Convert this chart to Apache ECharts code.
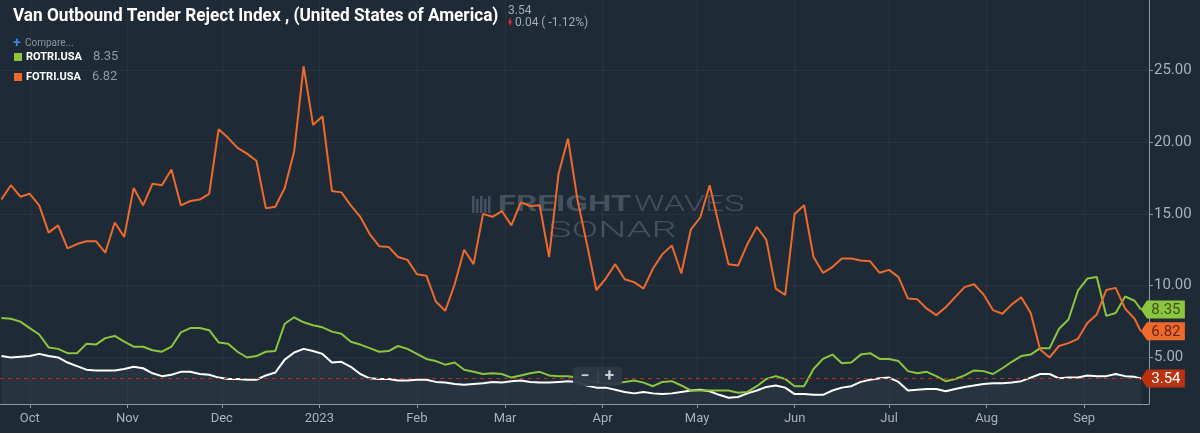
<!DOCTYPE html>
<html>
<head>
<meta charset="utf-8">
<title>Van Outbound Tender Reject Index</title>
<script src="https://cdn.jsdelivr.net/npm/echarts@6/dist/echarts.min.js"></script>
<style>
  html, body { margin: 0; padding: 0; background: #1e2a36; }
  #main { width: 1200px; height: 433px; }
</style>
</head>
<body>
<div id="main"></div>
<script>
// every 3 days, last point is the latest reading
const dates = [
  '2022-09-22','2022-09-25','2022-09-28','2022-10-01','2022-10-04','2022-10-07','2022-10-10','2022-10-13','2022-10-16','2022-10-19',
  '2022-10-22','2022-10-25','2022-10-28','2022-10-31','2022-11-03','2022-11-06','2022-11-09','2022-11-12','2022-11-15','2022-11-18',
  '2022-11-21','2022-11-24','2022-11-27','2022-11-30','2022-12-03','2022-12-06','2022-12-09','2022-12-12','2022-12-15','2022-12-18',
  '2022-12-21','2022-12-24','2022-12-27','2022-12-30','2023-01-02','2023-01-05','2023-01-08','2023-01-11','2023-01-14','2023-01-17',
  '2023-01-20','2023-01-23','2023-01-26','2023-01-29','2023-02-01','2023-02-04','2023-02-07','2023-02-10','2023-02-13','2023-02-16',
  '2023-02-19','2023-02-22','2023-02-25','2023-02-28','2023-03-03','2023-03-06','2023-03-09','2023-03-12','2023-03-15','2023-03-18',
  '2023-03-21','2023-03-24','2023-03-27','2023-03-30','2023-04-02','2023-04-05','2023-04-08','2023-04-11','2023-04-14','2023-04-17',
  '2023-04-20','2023-04-23','2023-04-26','2023-04-29','2023-05-02','2023-05-05','2023-05-08','2023-05-11','2023-05-14','2023-05-17',
  '2023-05-20','2023-05-23','2023-05-26','2023-05-29','2023-06-01','2023-06-04','2023-06-07','2023-06-10','2023-06-13','2023-06-16',
  '2023-06-19','2023-06-22','2023-06-25','2023-06-28','2023-07-01','2023-07-04','2023-07-07','2023-07-10','2023-07-13','2023-07-16',
  '2023-07-19','2023-07-22','2023-07-25','2023-07-28','2023-07-31','2023-08-03','2023-08-06','2023-08-09','2023-08-12','2023-08-15',
  '2023-08-18','2023-08-21','2023-08-24','2023-08-27','2023-08-30','2023-09-02','2023-09-05','2023-09-08','2023-09-11','2023-09-14',
  '2023-09-17','2023-09-19'
]

// VOTRI.USA (main series)
const votri = [
  5.1, 5.0, 5.05, 5.1, 5.25, 5.1, 5.0, 4.65, 4.4, 4.15,
  4.1, 4.1, 4.1, 4.2, 4.35, 4.25, 3.9, 3.7, 3.8, 4.0,
  4.0, 3.85, 3.8, 3.6, 3.5, 3.5, 3.45, 3.45, 3.75, 3.95,
  4.85, 5.35, 5.6, 5.45, 5.25, 4.65, 4.7, 4.35, 3.85, 3.55,
  3.5, 3.5, 3.4, 3.4, 3.45, 3.45, 3.3, 3.25, 3.15, 3.1,
  3.15, 3.2, 3.3, 3.25, 3.35, 3.4, 3.3, 3.25, 3.25, 3.3,
  3.35, 3.3, 3.05, 2.9, 2.9, 2.75, 2.6, 2.5, 2.6, 2.5,
  2.45, 2.5, 2.6, 2.7, 2.75, 2.65, 2.4, 2.2, 2.25, 2.5,
  2.7, 2.95, 3.05, 2.9, 2.45, 2.45, 2.4, 2.4, 2.7, 2.9,
  3.0, 3.3, 3.45, 3.55, 3.6, 3.3, 2.7, 2.75, 2.8, 2.8,
  2.65, 2.8, 2.95, 3.05, 3.15, 3.2, 3.2, 3.25, 3.35, 3.6,
  3.85, 3.85, 3.55, 3.6, 3.6, 3.75, 3.7, 3.7, 3.85, 3.7,
  3.65, 3.54
]

const rotri = [
  7.75, 7.7, 7.5, 7.05, 6.6, 5.7, 5.6, 5.3, 5.3, 5.95,
  5.9, 6.35, 6.5, 6.1, 5.75, 5.75, 5.5, 5.4, 5.75, 6.75,
  7.05, 7.05, 6.9, 6.05, 5.95, 5.4, 5.0, 5.1, 5.4, 5.45,
  7.35, 7.8, 7.45, 7.25, 7.1, 6.8, 6.65, 6.1, 5.9, 5.65,
  5.4, 5.45, 5.8, 5.6, 5.25, 4.9, 4.75, 4.5, 4.65, 4.15,
  4.0, 3.85, 3.9, 3.85, 3.6, 3.75, 3.9, 4.0, 3.75, 3.7,
  3.7, 3.6, 3.4, 3.3, 3.2, 3.15, 3.3, 3.4, 3.25, 3.0,
  3.3, 3.35, 3.05, 2.7, 2.7, 2.7, 2.7, 2.7, 2.55, 2.6,
  3.0, 3.5, 3.7, 3.5, 3.0, 3.0, 4.2, 4.9, 5.2, 4.6,
  4.65, 5.2, 5.3, 4.9, 4.9, 4.75, 4.05, 3.9, 4.0, 3.7,
  3.35, 3.5, 3.75, 4.1, 4.05, 3.85, 4.25, 4.7, 5.1, 5.2,
  5.65, 5.65, 7.0, 7.65, 9.65, 10.5, 10.6, 7.9, 8.1, 9.25,
  8.95, 8.35
]

const fotri = [
  16.0, 17.0, 16.2, 16.4, 15.6, 13.7, 14.2, 12.6, 12.9, 13.1,
  13.1, 12.3, 14.4, 13.4, 16.8, 15.6, 17.1, 17.0, 18.1, 15.6,
  15.9, 16.0, 16.4, 20.9, 20.3, 19.6, 19.2, 18.7, 15.4, 15.5,
  16.8, 19.35, 25.3, 21.2, 21.8, 16.6, 16.5, 15.6, 14.8, 13.6,
  12.75, 12.7, 12.0, 11.8, 10.8, 10.7, 8.9, 8.25, 10.1, 12.5,
  11.5, 15.0, 14.8, 15.2, 14.2, 15.8, 15.55, 15.6, 12.0, 17.8,
  20.25, 16.0, 12.9, 9.7, 10.5, 11.5, 10.45, 10.25, 9.8, 11.2,
  12.2, 12.8, 10.85, 13.9, 14.75, 17.0, 14.2, 11.5, 11.4, 12.9,
  14.1, 13.2, 9.8, 9.35, 15.0, 15.6, 12.0, 10.9, 11.3, 11.9,
  11.9, 11.75, 11.7, 10.9, 11.1, 10.6, 9.1, 9.05, 8.4, 7.95,
  8.5, 9.2, 9.9, 10.1, 9.4, 8.3, 8.05, 8.7, 9.2, 8.1,
  5.55, 5.0, 5.8, 6.0, 6.3, 7.4, 8.0, 9.7, 9.85, 8.4,
  7.7, 6.82
]

const monthStarts = ['2022-10-01','2022-11-01','2022-12-01','2023-01-01','2023-02-01','2023-03-01',
  '2023-04-01','2023-05-01','2023-06-01','2023-07-01','2023-08-01','2023-09-01']
const monthLabels = ['Oct','Nov','Dec','2023','Feb','Mar','Apr','May','Jun','Jul','Aug','Sep']
const yTicks = [5, 10, 15, 20, 25]

const BG = '#1e2a36'
const ORANGE = '#ee6a2c'
const GREEN = '#8cc63f'
const RED_TAG = '#bb3211'
const LABEL = '#a9b2bb'
const GRIDLINE = 'rgba(255,255,255,0.045)'

const parse = (d) => +echarts.time.parse(d)
const monthTs = monthStarts.map(parse)
const pairs = (vals) => dates.map((d, i) => [parse(d), vals[i]])
const last = dates.length - 1
const lastTs = parse(dates[last])

// pointed price tag at the end of each line
function tag(value, fill, textColor) {
  return {
    symbol: 'path://M0,9 L6,0 L44,0 L44,18 L6,18 Z',
    symbolSize: [44, 18],
    symbolKeepAspect: false,
    symbolOffset: [22, 0],
    silent: true,
    itemStyle: { color: fill },
    label: {
      show: true,
      position: 'inside',
      offset: [3, 1],
      color: textColor,
      fontSize: 15,
      fontFamily: 'Roboto',
      formatter: () => value.toFixed(2),
    },
    data: [{ coord: [lastTs, value] }],
  }
}

var myChart = echarts.init(document.getElementById('main'))
var option = {
  backgroundColor: BG,
  animation: false,
  grid: { left: 0, right: 51, top: 0, bottom: 29 },
  xAxis: {
    // dates as timestamps on a value axis, month starts as ticks
    type: 'value',
    min: parse('2022-09-21') + 13 * 3600e3,
    max: parse('2023-09-21') + 14 * 3600e3,
    axisLine: { show: true, onZero: false, lineStyle: { color: '#8d97a1', width: 1 } },
    axisTick: { show: true, customValues: monthTs, length: 4, lineStyle: { color: '#8d97a1' } },
    axisLabel: {
      customValues: monthTs,
      color: LABEL,
      fontSize: 13,
      fontFamily: 'Roboto',
      margin: 8,
      formatter: (v) => monthLabels[monthTs.indexOf(v)] || '',
    },
    splitLine: { show: false },
  },
  yAxis: {
    type: 'value',
    position: 'right',
    min: 1.76,
    max: 29.9,
    axisLine: { show: true, lineStyle: { color: '#8d97a1', width: 1 } },
    axisTick: { show: true, customValues: yTicks, length: 4, lineStyle: { color: '#8d97a1' } },
    axisLabel: {
      customValues: yTicks,
      color: LABEL,
      fontSize: 15,
      fontFamily: 'Roboto',
      margin: 5,
      formatter: (v) => v.toFixed(2),
    },
    splitLine: { show: false },
  },
  series: [
    {
      name: 'VOTRI.USA',
      type: 'line',
      data: pairs(votri),
      showSymbol: false,
      lineStyle: { color: '#ffffff', width: 2 },
      itemStyle: { color: '#ffffff' },
      areaStyle: { color: 'rgba(255,255,255,0.06)' },
      z: 3,
      markLine: {
        silent: true,
        symbol: 'none',
        label: { show: false },
        data: [
          { yAxis: votri[last], lineStyle: { color: '#b2341c', type: [4, 4], width: 1 } },
          // background grid drawn as lines
          ...yTicks.map((v) => ({ yAxis: v, lineStyle: { color: GRIDLINE, type: 'solid', width: 1 } })),
          ...monthTs.map((t) => ({ xAxis: t, lineStyle: { color: GRIDLINE, type: 'solid', width: 1 } })),
        ],
      },
      markPoint: tag(votri[last], RED_TAG, '#ffffff'),
    },
    {
      name: 'ROTRI.USA',
      type: 'line',
      data: pairs(rotri),
      showSymbol: false,
      lineStyle: { color: GREEN, width: 2 },
      itemStyle: { color: GREEN },
      z: 4,
      markPoint: tag(rotri[last], GREEN, '#3d5219'),
    },
    {
      name: 'FOTRI.USA',
      type: 'line',
      data: pairs(fotri),
      showSymbol: false,
      lineStyle: { color: ORANGE, width: 2 },
      itemStyle: { color: ORANGE },
      z: 5,
      markPoint: tag(fotri[last], ORANGE, '#6b2410'),
    },
  ],
  graphic: [
    // watermark
    { type: 'group', left: 472, top: 196, silent: true, z: 0, children: [0, 4, 8, 12, 16].map((x, i) => ({
      type: 'rect', shape: { x: x, y: i % 2 ? 3 : 0, width: 2.5, height: i % 2 ? 14 : 17 },
      style: { fill: 'rgba(150,165,180,0.32)' },
    })) },
    { type: 'text', x: 498, y: 205, silent: true, z: 0, scaleX: 1.5, style: {
      text: 'FREIGHT', fontFamily: 'Roboto', fontWeight: 'bold', fontSize: 22,
      fill: 'rgba(150,165,180,0.32)', verticalAlign: 'middle' } },
    { type: 'text', x: 634, y: 205, silent: true, z: 0, scaleX: 1.55, style: {
      text: 'WAVES', fontFamily: 'Roboto', fontWeight: 300, fontSize: 22,
      fill: 'rgba(150,165,180,0.32)', verticalAlign: 'middle' } },
    { type: 'text', x: 548, y: 231, silent: true, z: 0, scaleX: 1.8, style: {
      text: 'SONAR', fontFamily: 'Roboto', fontWeight: 300, fontSize: 22,
      fill: 'rgba(150,165,180,0.32)', verticalAlign: 'middle' } },

    // header (condensed look via horizontal scale)
    { type: 'text', x: 13, y: 16, scaleX: 0.955, style: {
      text: 'Van Outbound Tender Reject Index , (United States of America)',
      fontFamily: 'Roboto', fontWeight: 'bold', fontSize: 18, fill: '#ffffff', verticalAlign: 'middle' } },
    { type: 'text', x: 508, y: 11, style: {
      text: votri[last].toFixed(2), fontFamily: 'Roboto', fontSize: 12, fill: '#a3acb5', verticalAlign: 'middle' } },
    { type: 'polygon', shape: { points: [[508, 21], [512, 21], [510, 26]] }, style: { fill: '#e0242b' } },
    { type: 'rect', shape: { x: 509.2, y: 18.5, width: 1.6, height: 3 }, style: { fill: '#e0242b' } },
    { type: 'text', x: 515, y: 23, style: {
      text: '0.04 ( -1.12%)', fontFamily: 'Roboto', fontSize: 12, fill: '#a3acb5', verticalAlign: 'middle' } },

    // compare + legend
    { type: 'text', x: 13, y: 43, style: {
      text: '+', fontFamily: 'Roboto', fontWeight: 'bold', fontSize: 14, fill: '#3a86d8', verticalAlign: 'middle' } },
    { type: 'text', x: 25, y: 43, style: {
      text: 'Compare...', fontFamily: 'Roboto', fontSize: 10, fill: '#8c96a0', verticalAlign: 'middle' } },
    { type: 'rect', shape: { x: 14, y: 53, width: 8, height: 8 }, style: { fill: GREEN } },
    { type: 'text', x: 26, y: 57, style: {
      text: 'ROTRI.USA', fontFamily: 'Roboto', fontWeight: 'bold', fontSize: 11, fill: '#ffffff', verticalAlign: 'middle' } },
    { type: 'text', x: 93, y: 57, style: {
      text: rotri[last].toFixed(2), fontFamily: 'Roboto', fontSize: 13, fill: '#8f99a3', verticalAlign: 'middle' } },
    { type: 'rect', shape: { x: 14, y: 73, width: 8, height: 8 }, style: { fill: ORANGE } },
    { type: 'text', x: 26, y: 77, style: {
      text: 'FOTRI.USA', fontFamily: 'Roboto', fontWeight: 'bold', fontSize: 11, fill: '#ffffff', verticalAlign: 'middle' } },
    { type: 'text', x: 92, y: 77, style: {
      text: fotri[last].toFixed(2), fontFamily: 'Roboto', fontSize: 13, fill: '#8f99a3', verticalAlign: 'middle' } },

    // zoom buttons
    { type: 'rect', z: 20, shape: { x: 573, y: 367, width: 49, height: 19, r: 3 }, style: { fill: 'rgba(44,57,70,0.95)' } },
    { type: 'rect', z: 21, shape: { x: 597.5, y: 370, width: 1, height: 13 }, style: { fill: 'rgba(255,255,255,0.12)' } },
    { type: 'text', z: 21, x: 585, y: 376.5, style: {
      text: '−', fontFamily: 'Roboto', fontWeight: 'bold', fontSize: 16, fill: '#c9d0d6', align: 'center', verticalAlign: 'middle' } },
    { type: 'text', z: 21, x: 609.5, y: 376.5, style: {
      text: '+', fontFamily: 'Roboto', fontWeight: 'bold', fontSize: 17, fill: '#c9d0d6', align: 'center', verticalAlign: 'middle' } },
  ],
}
myChart.setOption(option)
</script>
</body>
</html>
